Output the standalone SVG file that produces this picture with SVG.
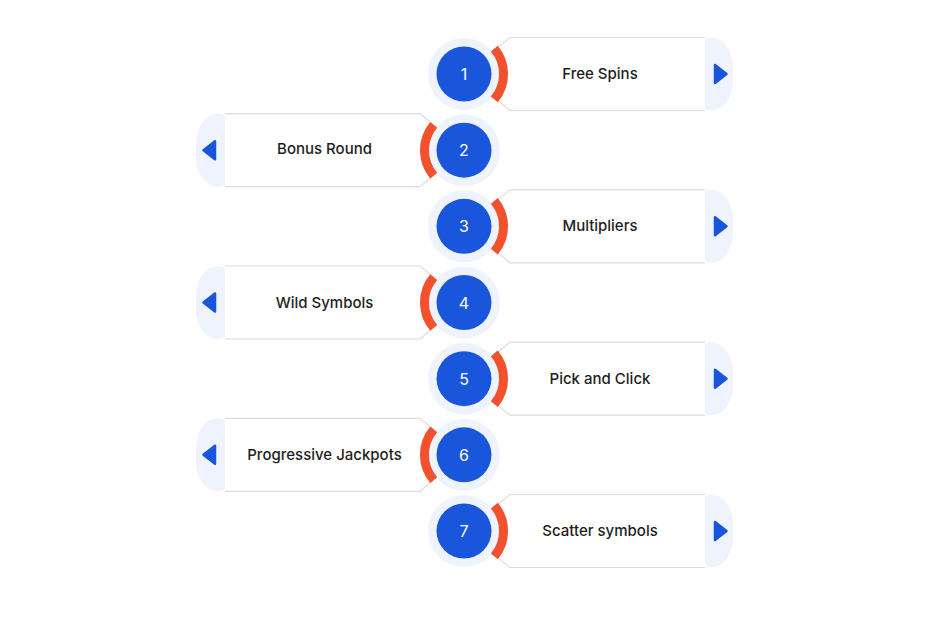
<svg xmlns="http://www.w3.org/2000/svg" width="930" height="620" viewBox="0 0 930 620">
<style>
.cap{fill:#eef3fd}
.card{fill:#ffffff}
.edge{fill:none;stroke:#dcdcdc;stroke-width:1.2}
.halo{fill:#eef3fd}
.arc{fill:none;stroke:#f2512d;stroke-width:9}
.dot{fill:#1a56db}
.num{fill:#ffffff;font-family:Inter,"Open Sans",sans-serif;font-size:16px;text-anchor:middle;dominant-baseline:central}
.lbl{fill:#1e1e1e;font-family:Inter,"Open Sans",sans-serif;font-size:15px;font-weight:500;text-anchor:middle;dominant-baseline:central}
.tri{fill:#1a56db;stroke:#1a56db;stroke-width:2.5;stroke-linejoin:round}
</style>
<rect width="930" height="620" fill="#ffffff"/>
<g id="connectors"></g>

<g id="node1" transform="translate(0,74)">
<rect class="cap" x="690" y="-36.5" width="43" height="73" rx="30"/>
<path class="card" d="M465,0 L510,-36.5 H705 V36.5 H510 Z"/>
<path class="edge" d="M705,-36.5 H510 L465,0 L510,36.5 H705"/>
<polygon class="tri" points="715,-9 726.5,0 715,9"/>
<circle class="halo" cx="464" cy="0" r="36"/>
<path class="arc" d="M494.3,-25.4 A39.5 39.5 0 0 1 494.3,25.4"/>
<circle class="dot" cx="464" cy="0" r="27.5"/>
<text class="num" x="464" y="0">1</text>
<text class="lbl" x="600" y="-0.5">Free Spins</text>
</g>

<g id="node2" transform="translate(0,150.2)">
<rect class="cap" x="196" y="-36.5" width="43" height="73" rx="30"/>
<path class="card" d="M464,0 L420,-36.5 H225 V36.5 H420 Z"/>
<path class="edge" d="M225,-36.5 H420 L464,0 L420,36.5 H225"/>
<polygon class="tri" points="215,-9 203.5,0 215,9"/>
<circle class="halo" cx="464" cy="0" r="36"/>
<path class="arc" d="M433.7,-25.4 A39.5 39.5 0 0 0 433.7,25.4"/>
<circle class="dot" cx="464" cy="0" r="27.5"/>
<text class="num" x="464" y="0">2</text>
<text class="lbl" x="324.5" y="-1.5">Bonus Round</text>
</g>

<g id="node3" transform="translate(0,226.3)">
<rect class="cap" x="690" y="-36.5" width="43" height="73" rx="30"/>
<path class="card" d="M465,0 L510,-36.5 H705 V36.5 H510 Z"/>
<path class="edge" d="M705,-36.5 H510 L465,0 L510,36.5 H705"/>
<polygon class="tri" points="715,-9 726.5,0 715,9"/>
<circle class="halo" cx="464" cy="0" r="36"/>
<path class="arc" d="M494.3,-25.4 A39.5 39.5 0 0 1 494.3,25.4"/>
<circle class="dot" cx="464" cy="0" r="27.5"/>
<text class="num" x="464" y="0">3</text>
<text class="lbl" x="600" y="-0.5">Multipliers</text>
</g>

<g id="node4" transform="translate(0,302.5)">
<rect class="cap" x="196" y="-36.5" width="43" height="73" rx="30"/>
<path class="card" d="M464,0 L420,-36.5 H225 V36.5 H420 Z"/>
<path class="edge" d="M225,-36.5 H420 L464,0 L420,36.5 H225"/>
<polygon class="tri" points="215,-9 203.5,0 215,9"/>
<circle class="halo" cx="464" cy="0" r="36"/>
<path class="arc" d="M433.7,-25.4 A39.5 39.5 0 0 0 433.7,25.4"/>
<circle class="dot" cx="464" cy="0" r="27.5"/>
<text class="num" x="464" y="0">4</text>
<text class="lbl" x="324.5" y="0">Wild Symbols</text>
</g>

<g id="node5" transform="translate(0,378.7)">
<rect class="cap" x="690" y="-36.5" width="43" height="73" rx="30"/>
<path class="card" d="M465,0 L510,-36.5 H705 V36.5 H510 Z"/>
<path class="edge" d="M705,-36.5 H510 L465,0 L510,36.5 H705"/>
<polygon class="tri" points="715,-9 726.5,0 715,9"/>
<circle class="halo" cx="464" cy="0" r="36"/>
<path class="arc" d="M494.3,-25.4 A39.5 39.5 0 0 1 494.3,25.4"/>
<circle class="dot" cx="464" cy="0" r="27.5"/>
<text class="num" x="464" y="0">5</text>
<text class="lbl" x="600" y="-0.5">Pick and Click</text>
</g>

<g id="node6" transform="translate(0,454.8)">
<rect class="cap" x="196" y="-36.5" width="43" height="73" rx="30"/>
<path class="card" d="M464,0 L420,-36.5 H225 V36.5 H420 Z"/>
<path class="edge" d="M225,-36.5 H420 L464,0 L420,36.5 H225"/>
<polygon class="tri" points="215,-9 203.5,0 215,9"/>
<circle class="halo" cx="464" cy="0" r="36"/>
<path class="arc" d="M433.7,-25.4 A39.5 39.5 0 0 0 433.7,25.4"/>
<circle class="dot" cx="464" cy="0" r="27.5"/>
<text class="num" x="464" y="0">6</text>
<text class="lbl" x="324.5" y="0">Progressive Jackpots</text>
</g>

<g id="node7" transform="translate(0,531)">
<rect class="cap" x="690" y="-36.5" width="43" height="73" rx="30"/>
<path class="card" d="M465,0 L510,-36.5 H705 V36.5 H510 Z"/>
<path class="edge" d="M705,-36.5 H510 L465,0 L510,36.5 H705"/>
<polygon class="tri" points="715,-9 726.5,0 715,9"/>
<circle class="halo" cx="464" cy="0" r="36"/>
<path class="arc" d="M494.3,-25.4 A39.5 39.5 0 0 1 494.3,25.4"/>
<circle class="dot" cx="464" cy="0" r="27.5"/>
<text class="num" x="464" y="0">7</text>
<text class="lbl" x="600" y="-0.5">Scatter symbols</text>
</g>
</svg>
